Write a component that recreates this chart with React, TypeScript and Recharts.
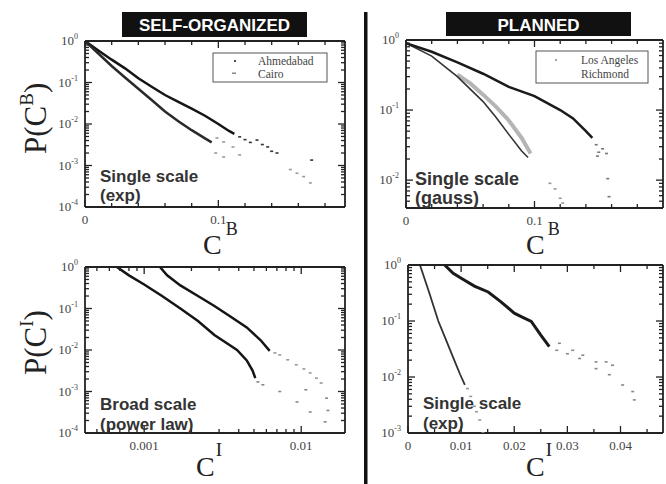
import React from "react";
import { ComposedChart, Line, Scatter, XAxis, YAxis } from "recharts";

type Pt = { x: number; y: number };

// ---- top left: C^B, self-organized cities
const ahmedabadB: Pt[] = [
  { x: 0, y: 1 }, { x: 0.01, y: 0.59 }, { x: 0.02, y: 0.355 }, { x: 0.03, y: 0.219 },
  { x: 0.04, y: 0.126 }, { x: 0.05, y: 0.079 }, { x: 0.06, y: 0.05 }, { x: 0.07, y: 0.034 },
  { x: 0.08, y: 0.0234 }, { x: 0.09, y: 0.0158 }, { x: 0.1, y: 0.01 }, { x: 0.108, y: 0.0068 },
  { x: 0.112, y: 0.0058 },
];
const ahmedabadTail: Pt[] = [
  { x: 0.116, y: 0.0049 }, { x: 0.12, y: 0.0042 }, { x: 0.124, y: 0.0036 }, { x: 0.129, y: 0.0041 },
  { x: 0.133, y: 0.0032 }, { x: 0.137, y: 0.0028 }, { x: 0.14, y: 0.0022 }, { x: 0.144, y: 0.002 },
  { x: 0.17, y: 0.00135 },
];
const cairoB: Pt[] = [
  { x: 0, y: 1 }, { x: 0.01, y: 0.5 }, { x: 0.02, y: 0.25 }, { x: 0.03, y: 0.132 },
  { x: 0.04, y: 0.0708 }, { x: 0.05, y: 0.038 }, { x: 0.06, y: 0.02 }, { x: 0.07, y: 0.0117 },
  { x: 0.08, y: 0.0071 }, { x: 0.09, y: 0.0045 }, { x: 0.095, y: 0.0036 },
];
const cairoTail: Pt[] = [
  { x: 0.099, y: 0.0046 }, { x: 0.104, y: 0.0037 }, { x: 0.111, y: 0.0028 }, { x: 0.116, y: 0.0018 },
  { x: 0.098, y: 0.002 }, { x: 0.104, y: 0.0016 }, { x: 0.154, y: 0.0008 }, { x: 0.159, y: 0.00065 },
  { x: 0.164, y: 0.00054 }, { x: 0.169, y: 0.00038 },
];

// ---- top right: C^B, planned cities
const richmondB: Pt[] = [
  { x: 0, y: 0.9 }, { x: 0.02, y: 0.68 }, { x: 0.04, y: 0.48 }, { x: 0.06, y: 0.33 },
  { x: 0.08, y: 0.214 }, { x: 0.1, y: 0.158 }, { x: 0.12, y: 0.1 }, { x: 0.13, y: 0.076 },
  { x: 0.14, y: 0.05 }, { x: 0.145, y: 0.04 },
];
const richmondTail: Pt[] = [
  { x: 0.148, y: 0.032 }, { x: 0.15, y: 0.025 }, { x: 0.149, y: 0.022 }, { x: 0.156, y: 0.024 },
  { x: 0.153, y: 0.028 }, { x: 0.157, y: 0.0105 }, { x: 0.158, y: 0.0058 },
];
const losAngelesB: Pt[] = [
  { x: 0.04, y: 0.32 }, { x: 0.05, y: 0.24 }, { x: 0.06, y: 0.166 }, { x: 0.07, y: 0.112 },
  { x: 0.08, y: 0.071 }, { x: 0.09, y: 0.04 }, { x: 0.097, y: 0.024 },
];
const losAngelesEdge: Pt[] = [
  { x: 0, y: 0.9 }, { x: 0.02, y: 0.59 }, { x: 0.04, y: 0.3 }, { x: 0.06, y: 0.132 },
  { x: 0.07, y: 0.079 }, { x: 0.08, y: 0.045 }, { x: 0.09, y: 0.026 }, { x: 0.095, y: 0.021 },
];
const losAngelesTail: Pt[] = [
  { x: 0.112, y: 0.009 }, { x: 0.116, y: 0.0075 }, { x: 0.12, y: 0.0055 }, { x: 0.122, y: 0.0047 },
];

// ---- bottom left: C^I, self-organized (log-log)
const broadLeft: Pt[] = [
  { x: 0.00067, y: 1 }, { x: 0.0008, y: 0.63 }, { x: 0.001, y: 0.38 }, { x: 0.0013, y: 0.2 },
  { x: 0.0017, y: 0.1 }, { x: 0.0022, y: 0.05 }, { x: 0.0028, y: 0.023 }, { x: 0.0034, y: 0.0141 },
  { x: 0.0039, y: 0.01 }, { x: 0.0045, y: 0.0056 }, { x: 0.0049, y: 0.0032 }, { x: 0.0051, y: 0.0021 },
];
const broadLeftTail: Pt[] = [
  { x: 0.0053, y: 0.0017 }, { x: 0.0057, y: 0.00145 }, { x: 0.0073, y: 0.001 }, { x: 0.0094, y: 0.00056 },
  { x: 0.0114, y: 0.00032 }, { x: 0.0142, y: 0.000186 }, { x: 0.0107, y: 0.0011 }, { x: 0.0145, y: 0.00069 },
  { x: 0.0148, y: 0.00035 },
];
const broadRight: Pt[] = [
  { x: 0.00126, y: 1 }, { x: 0.0014, y: 0.63 }, { x: 0.0017, y: 0.36 }, { x: 0.0022, y: 0.2 },
  { x: 0.0028, y: 0.115 }, { x: 0.0035, y: 0.066 }, { x: 0.0045, y: 0.035 }, { x: 0.0055, y: 0.0174 },
  { x: 0.0063, y: 0.0095 },
];
const broadRightTail: Pt[] = [
  { x: 0.0068, y: 0.0085 }, { x: 0.0073, y: 0.0076 }, { x: 0.0082, y: 0.0058 }, { x: 0.0093, y: 0.0044 },
  { x: 0.0104, y: 0.0035 }, { x: 0.0114, y: 0.0028 }, { x: 0.0125, y: 0.0021 }, { x: 0.0134, y: 0.0016 },
];

// ---- bottom right: C^I, planned
const expLeft: Pt[] = [
  { x: 0.00225, y: 1 }, { x: 0.004, y: 0.32 }, { x: 0.0057, y: 0.1 }, { x: 0.007, y: 0.05 },
  { x: 0.0088, y: 0.019 }, { x: 0.0098, y: 0.0112 }, { x: 0.0107, y: 0.0072 },
];
const expLeftTail: Pt[] = [
  { x: 0.0112, y: 0.0062 }, { x: 0.0118, y: 0.0045 }, { x: 0.0125, y: 0.003 }, { x: 0.0129, y: 0.0024 },
  { x: 0.0135, y: 0.0017 }, { x: 0.0141, y: 0.001 },
];
const expRight: Pt[] = [
  { x: 0.0069, y: 1 }, { x: 0.0085, y: 0.71 }, { x: 0.0101, y: 0.575 }, { x: 0.0125, y: 0.42 },
  { x: 0.0151, y: 0.33 }, { x: 0.0175, y: 0.22 }, { x: 0.02, y: 0.138 }, { x: 0.0215, y: 0.117 },
  { x: 0.0232, y: 0.098 }, { x: 0.025, y: 0.056 }, { x: 0.0266, y: 0.035 },
];
const expRightTail: Pt[] = [
  { x: 0.028, y: 0.03 }, { x: 0.0285, y: 0.04 }, { x: 0.03, y: 0.026 }, { x: 0.031, y: 0.03 },
  { x: 0.0323, y: 0.0214 }, { x: 0.0329, y: 0.0245 }, { x: 0.0354, y: 0.0186 }, { x: 0.0354, y: 0.0141 },
  { x: 0.0373, y: 0.0186 }, { x: 0.0379, y: 0.011 }, { x: 0.0385, y: 0.0162 }, { x: 0.0404, y: 0.0072 },
  { x: 0.0423, y: 0.0055 }, { x: 0.0426, y: 0.0039 },
];

// tick positions
const tlXTicks = [0, 0.02, 0.04, 0.06, 0.08, 0.1, 0.12, 0.14, 0.16, 0.18];
const trXTicks = [0, 0.02, 0.04, 0.06, 0.08, 0.1, 0.12, 0.14, 0.16, 0.18];
const brXTicks = [0, 0.005, 0.01, 0.015, 0.02, 0.025, 0.03, 0.035, 0.04, 0.045];
const decadeLabels = ["0.001", "0.01"];
const linLabelsB = ["0", "0.1"];
const linLabelsI = ["0", "0.01", "0.02", "0.03", "0.04"];

function logTicks(lo: number, hi: number) {
  const out: number[] = [];
  for (let k = Math.floor(Math.log10(lo)); k <= Math.ceil(Math.log10(hi)); k++) {
    for (let m = 1; m < 10; m++) {
      const v = +(m * Math.pow(10, k)).toPrecision(3);
      if (v >= lo * 0.999 && v <= hi * 1.001) out.push(v);
    }
  }
  return out;
}

const near = (a: number, b: number) => Math.abs(a - b) < 1e-12 || Math.abs(a - b) < 1e-9 * Math.abs(b);
const labelFrom = (labels: string[]) => (v: number) => labels.find((l) => near(parseFloat(l), v)) ?? "";
const powExp = (v: number) => {
  const e = Math.log10(v);
  return Math.abs(e - Math.round(e)) < 1e-6 ? String(Math.round(e)) : "";
};

const INK = "#222";
const TXT = "#444";
const SERIF = "Liberation Serif";
const SANS = "Liberation Sans";

type Side = "bottom" | "top" | "left" | "right";

function makeTick(side: Side, label: (v: number) => string, isY: boolean) {
  return (props: any) => {
    const { x, y, payload } = props;
    const v = payload.value as number;
    const lab = label(v);
    const len = lab ? 7 : 4;
    let x2 = x, y2 = y;
    if (side === "bottom") y2 = y - len;
    if (side === "top") y2 = y + len;
    if (side === "left") x2 = x + len;
    if (side === "right") x2 = x - len;
    return (
      <g>
        <line x1={x} y1={y} x2={x2} y2={y2} stroke={INK} strokeWidth={1.3} />
        {lab && side === "bottom" && (
          <text x={x} y={y + 17} textAnchor="middle" fontSize={13} fontFamily={SERIF} fill={TXT}>
            {lab}
          </text>
        )}
        {lab && side === "left" && isY && (
          <text x={x - 7} y={y + 4} textAnchor="end" fontSize={13} fontFamily={SERIF} fill={TXT}>
            10<tspan dy={-6} fontSize={8}>{lab}</tspan>
          </text>
        )}
      </g>
    );
  };
}

interface Series { data: Pt[]; color: string; width?: number; dots?: boolean }

interface PanelProps {
  box: [number, number, number, number];
  plot: [number, number, number, number];
  xDomain: [number, number];
  xLog?: boolean;
  xTicks: number[];
  xLabel: (v: number) => string;
  yDomain: [number, number];
  series: Series[];
}

function Dash(props: any) {
  const { cx, cy, fill } = props;
  if (cx == null || cy == null) return null;
  return <rect x={cx - 1.5} y={cy - 0.8} width={3} height={1.6} fill={fill} />;
}

function Panel({ box, plot, xDomain, xLog, xTicks, xLabel, yDomain, series }: PanelProps) {
  const [bl, bt, bw, bh] = box;
  const [x0, y0, x1, y1] = plot;
  // each axis takes 1px of the margin (axes of size 0 are not drawn)
  const margin = { left: x0 - bl - 1, top: y0 - bt - 1, right: bl + bw - x1 - 1, bottom: bt + bh - y1 - 1 };
  const yTicks = logTicks(yDomain[0], yDomain[1]);
  const axisStyle = { stroke: INK, strokeWidth: 1.8 };
  const xs = xLog ? "log" : "linear";
  return (
    <div style={{ position: "absolute", left: bl, top: bt }}>
      <ComposedChart width={bw} height={bh} margin={margin}>
        <XAxis xAxisId={0} dataKey="x" type="number" scale={xs} domain={xDomain}
          allowDataOverflow ticks={xTicks} interval={0} height={1} tickSize={0} tickMargin={0}
          axisLine={axisStyle} tickLine={false} tick={makeTick("bottom", xLabel, false)} />
        <XAxis xAxisId="top" orientation="top" dataKey="x" type="number" scale={xs}
          domain={xDomain} allowDataOverflow ticks={xTicks} interval={0} height={1} tickSize={0}
          tickMargin={0} axisLine={axisStyle} tickLine={false} tick={makeTick("top", xLabel, false)} />
        <YAxis yAxisId={0} dataKey="y" type="number" scale="log" domain={yDomain} allowDataOverflow
          ticks={yTicks} interval={0} width={1} tickSize={0} tickMargin={0} axisLine={axisStyle}
          tickLine={false} tick={makeTick("left", powExp, true)} />
        <YAxis yAxisId="right" orientation="right" dataKey="y" type="number" scale="log" domain={yDomain}
          allowDataOverflow ticks={yTicks} interval={0} width={1} tickSize={0} tickMargin={0}
          axisLine={axisStyle} tickLine={false} tick={makeTick("right", powExp, true)} />
        {series.map((s, i) =>
          s.dots ? (
            <Scatter key={i} data={s.data} dataKey="y" fill={s.color} shape={<Dash />} isAnimationActive={false} />
          ) : (
            <Line key={i} data={s.data} dataKey="y" type="linear" stroke={s.color} strokeWidth={s.width ?? 2.5}
              dot={false} isAnimationActive={false} />
          )
        )}
      </ComposedChart>
    </div>
  );
}

function Overlay() {
  return (
    <svg width={666} height={484} style={{ position: "absolute", left: 0, top: 0, pointerEvents: "none" }}>
      {/* column titles */}
      <rect x={122} y={12} width={185} height={25} fill="#111" />
      <text x={214.5} y={31} textAnchor="middle" fontFamily={SANS} fontWeight={700} fontSize={17} fill="#fff">SELF-ORGANIZED</text>
      <rect x={446} y={12} width={185} height={24} fill="#111" />
      <text x={538.5} y={31} textAnchor="middle" fontFamily={SANS} fontWeight={700} fontSize={17} fill="#fff">PLANNED</text>
      <rect x={364} y={12} width={3.5} height={472} fill="#111" />

      {/* y labels */}
      <text transform="translate(46 154) rotate(-90)" fontFamily={SERIF} fontSize={31} fill={INK}>
        P(C<tspan dy={-13} fontSize={19}>B</tspan><tspan dy={13}>)</tspan>
      </text>
      <text transform="translate(46 375) rotate(-90)" fontFamily={SERIF} fontSize={31} fill={INK}>
        P(C<tspan dy={-13} fontSize={19}>I</tspan><tspan dy={13}>)</tspan>
      </text>

      {/* x labels */}
      <g fontFamily={SERIF} fontSize={28} fill={INK}>
        <text x={203} y={254}>C<tspan dx={4} dy={-19} fontSize={18}>B</tspan></text>
        <text x={526} y={254}>C<tspan dx={3} dy={-19} fontSize={18}>B</tspan></text>
        <text x={196} y={476}>C<tspan dx={1} dy={-20} fontSize={19}>I</tspan></text>
        <text x={526} y={476}>C<tspan dx={1} dy={-20} fontSize={19}>I</tspan></text>
      </g>

      {/* annotations */}
      <g fontFamily={SANS} fontWeight={700} fill="#333">
        <text x={100} y={182} fontSize={17}>Single scale</text>
        <text x={100} y={201} fontSize={17}>(exp)</text>
        <text x={415} y={185} fontSize={18}>Single scale</text>
        <text x={415} y={204} fontSize={18}>(gauss)</text>
        <text x={100} y={410} fontSize={17}>Broad scale</text>
        <text x={100} y={430} fontSize={17}>(power law)</text>
        <text x={423} y={409} fontSize={17}>Single scale</text>
        <text x={423} y={429} fontSize={17}>(exp)</text>
      </g>

      {/* legends */}
      <rect x={213} y={53} width={114} height={29} fill="#fff" stroke="#555" strokeWidth={1} />
      <circle cx={235} cy={61} r={1} fill="#111" />
      <rect x={232} y={72.5} width={4} height={1.5} fill="#888" />
      <text x={258} y={65} fontFamily={SERIF} fontSize={11.5} fill={TXT}>Ahmedabad</text>
      <text x={258} y={78} fontFamily={SERIF} fontSize={11.5} fill={TXT}>Cairo</text>

      <rect x={536} y={51} width={112} height={32} fill="#fff" stroke="#555" strokeWidth={1} />
      <circle cx={556} cy={60} r={1} fill="#888" />
      <text x={581} y={64} fontFamily={SERIF} fontSize={11.5} fill={TXT}>Los Angeles</text>
      <text x={581} y={78} fontFamily={SERIF} fontSize={11.5} fill={TXT}>Richmond</text>
    </svg>
  );
}

export default function App() {
  return (
    <div style={{ position: "absolute", left: 0, top: 0, width: 666, height: 484, background: "#fff" }}>
      <Panel
        box={[0, 0, 360, 240]}
        plot={[85, 41, 345, 207]}
        xDomain={[0, 0.195]}
        xTicks={tlXTicks}
        xLabel={labelFrom(linLabelsB)}
        yDomain={[0.0001, 1]}
        series={[
          { data: ahmedabadB, color: "#151515" },
          { data: cairoB, color: "#2a2a2a" },
          { data: ahmedabadTail, color: "#333", dots: true },
          { data: cairoTail, color: "#999", dots: true },
        ]}
      />
      <Panel
        box={[370, 0, 296, 240]}
        plot={[406, 40, 663, 208]}
        xDomain={[0, 0.2]}
        xTicks={trXTicks}
        xLabel={labelFrom(linLabelsB)}
        yDomain={[0.004, 1]}
        series={[
          { data: losAngelesB, color: "#b5b5b5", width: 4 },
          { data: losAngelesEdge, color: "#333", width: 1.6 },
          { data: richmondB, color: "#1a1a1a", width: 2.5 },
          { data: richmondTail, color: "#777", dots: true },
          { data: losAngelesTail, color: "#999", dots: true },
        ]}
      />
      <Panel
        box={[0, 242, 360, 242]}
        plot={[85, 267, 345, 433]}
        xDomain={[0.00042, 0.019]}
        xLog
        xTicks={logTicks(0.00042, 0.019)}
        xLabel={labelFrom(decadeLabels)}
        yDomain={[0.0001, 1]}
        series={[
          { data: broadLeft, color: "#151515" },
          { data: broadRight, color: "#151515" },
          { data: broadLeftTail, color: "#888", dots: true },
          { data: broadRightTail, color: "#999", dots: true },
        ]}
      />
      <Panel
        box={[370, 242, 296, 242]}
        plot={[408, 265, 663, 433]}
        xDomain={[0, 0.048]}
        xTicks={brXTicks}
        xLabel={labelFrom(linLabelsI)}
        yDomain={[0.001, 1]}
        series={[
          { data: expLeft, color: "#333", width: 1.8 },
          { data: expRight, color: "#1a1a1a", width: 3 },
          { data: expLeftTail, color: "#999", dots: true },
          { data: expRightTail, color: "#888", dots: true },
        ]}
      />
      <Overlay />
    </div>
  );
}
